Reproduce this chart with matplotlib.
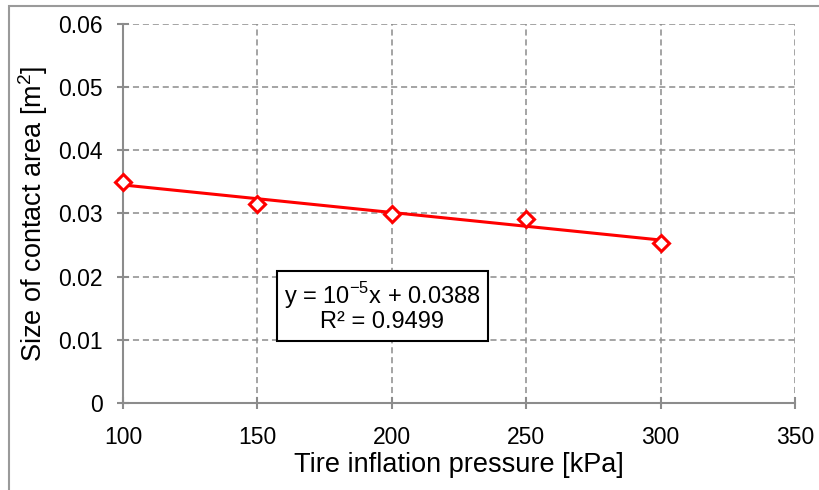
import matplotlib
matplotlib.use("Agg")
import matplotlib.pyplot as plt
import numpy as np
from matplotlib.patches import Rectangle

plt.rcParams['font.family'] = ['Liberation Sans', 'DejaVu Sans']

# datos
pressure = np.array([100, 150, 200, 250, 300])
area = np.array([0.0350, 0.0315, 0.0299, 0.0291, 0.0253])
x_ticks = [100, 150, 200, 250, 300, 350]
y_ticks = [0, 0.01, 0.02, 0.03, 0.04, 0.05, 0.06]
y_labels = ["0", "0.01", "0.02", "0.03", "0.04", "0.05", "0.06"]

gray = "#8c8c8c"

fig = plt.figure(figsize=(8.2, 4.9), dpi=100)
ax = fig.add_axes([0.15, 1 - 403 / 490, 0.8195, (403 - 24) / 490])

# borde exterior del grafico
fig.patches.append(Rectangle((9 / 820, -0.1), 1.2, 1 - 6 / 490 + 0.1,
                             transform=fig.transFigure, fill=False,
                             edgecolor="#9a9a9a", lw=1.5, zorder=0))

# linea de tendencia
slope, intercept = np.polyfit(pressure, area, 1)
xs = np.array([pressure.min(), pressure.max()])
ax.plot(xs, slope * xs + intercept, color="red", lw=2.2, zorder=3)

ax.plot(pressure, area, linestyle="none", marker="D", markersize=8,
        markerfacecolor="white", markeredgecolor="red", markeredgewidth=2.2,
        zorder=4, clip_on=False)

ax.set_xlim(100, 350)
ax.set_ylim(0, 0.06)
ax.set_xticks(x_ticks)
ax.set_yticks(y_ticks)
ax.set_yticklabels(y_labels)

ax.grid(True, linestyle=(0, (4, 2.5)), color=gray, lw=1.1)
ax.set_axisbelow(True)
for s in ["top", "right"]:
    ax.spines[s].set_visible(False)
for s in ["left", "bottom"]:
    ax.spines[s].set_color(gray)
    ax.spines[s].set_linewidth(1.5)

ax.tick_params(axis="both", direction="inout", length=9, width=1.5,
               color=gray, labelsize=16.5)
ax.tick_params(axis="x", pad=12)
ax.tick_params(axis="y", pad=10)

ax.set_xlabel("Tire inflation pressure [kPa]", fontsize=19.5, labelpad=2)
ax.set_ylabel("Size of contact area [m$^{\\mathregular{2}}$]", fontsize=19.5, labelpad=6)

ax.text(196.4, 0.0152,
        "y = 10$^{\\mathregular{-5}}$x + 0.0388\nR² = 0.9499",
        fontsize=17, ha="center", va="center", linespacing=1.0,
        bbox=dict(boxstyle="square,pad=0.3", facecolor="white",
                  edgecolor="black", lw=1.5), zorder=5)

fig.savefig("out.png", dpi=100)
